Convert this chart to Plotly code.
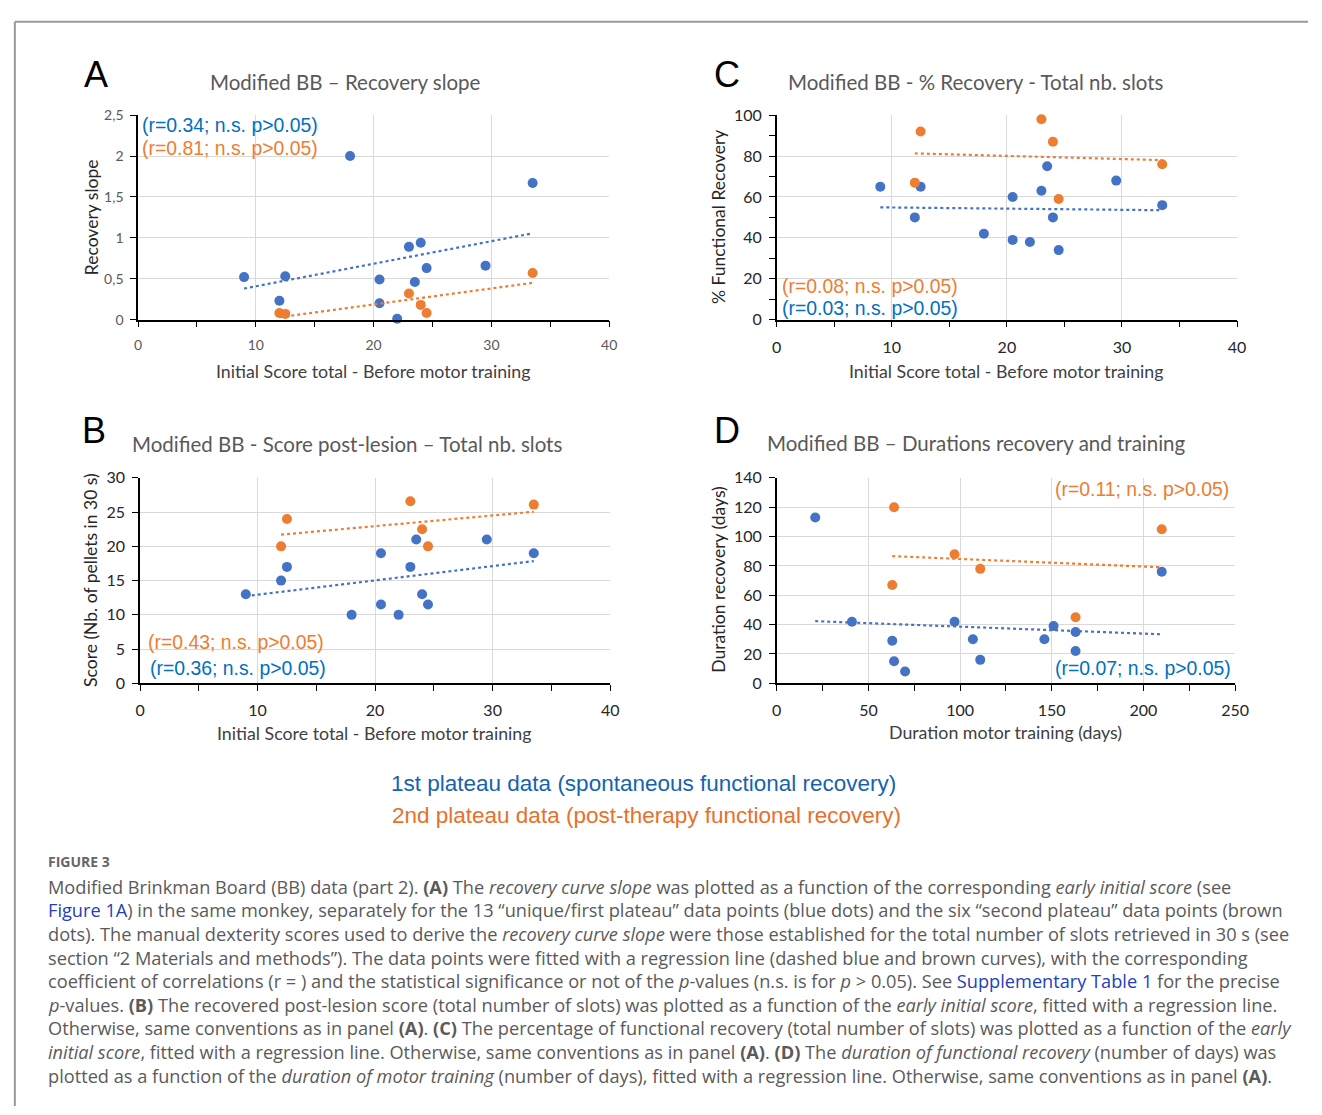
import numpy as np
import plotly.graph_objects as go

W, H = 1322, 1115

# ---------------- data ----------------
# Panel A: recovery slope vs initial score
a_blue_x = [9, 12, 12.5, 18, 20.5, 20.5, 22, 23, 23.5, 24, 24.5, 29.5, 33.5]
a_blue_y = [0.52, 0.23, 0.53, 2.0, 0.49, 0.20, 0.01, 0.89, 0.46, 0.94, 0.63, 0.66, 1.67]
a_orange_x = [12, 12.5, 23, 24, 24.5, 33.5]
a_orange_y = [0.08, 0.07, 0.32, 0.18, 0.08, 0.57]

# Panel B: score post-lesion vs initial score
b_blue_x = [9, 12, 12.5, 18, 20.5, 20.5, 22, 23, 23.5, 24, 24.5, 29.5, 33.5]
b_blue_y = [13, 15, 17, 10, 19, 11.5, 10, 17, 21, 13, 11.5, 21, 19]
b_orange_x = [12, 12.5, 23, 24, 24.5, 33.5]
b_orange_y = [20, 24, 26.6, 22.5, 20, 26.1]

# Panel C: % functional recovery vs initial score
c_blue_x = [9, 12, 12.5, 18, 20.5, 20.5, 22, 23, 23.5, 24, 24.5, 29.5, 33.5]
c_blue_y = [65, 50, 65, 42, 60, 39, 38, 63, 75, 50, 34, 68, 56]
c_orange_x = [12, 12.5, 23, 24, 24.5, 33.5]
c_orange_y = [67, 92, 98, 87, 59, 76]

# Panel D: duration recovery vs duration motor training
d_blue_x = [21, 41, 63, 64, 70, 97, 107, 111, 146, 151, 163, 163, 210]
d_blue_y = [113, 42, 29, 15, 8, 42, 30, 16, 30, 39, 35, 22, 76]
d_orange_x = [63, 64, 97, 111, 163, 210]
d_orange_y = [67, 120, 88, 78, 45, 105]

BLUE_M = "#4472C4"
ORANGE_M = "#ED7D31"
BLUE_T = "#0070C0"
ORANGE_T = "#ED7D31"


def px(x):
    return x / W


def py(y):
    return 1 - y / H


panels = [
    dict(key="1", bx=a_blue_x, by=a_blue_y, ox=a_orange_x, oy=a_orange_y,
         xd=(135, 613), yd=(107, 315), xr=[0, 40], yr=[0, 2.5], xdt=10, xmn=5, ydt=0.5, ymn=None,
         tfs=14, tcol="#595959"),
    dict(key="2", bx=c_blue_x, by=c_blue_y, ox=c_orange_x, oy=c_orange_y,
         xd=(783, 1250), yd=(107, 315), xr=[0, 40], yr=[0, 100], xdt=10, xmn=5, ydt=20, ymn=10,
         tfs=16, tcol="#262626"),
    dict(key="3", bx=b_blue_x, by=b_blue_y, ox=b_orange_x, oy=b_orange_y,
         xd=(137, 614), yd=(476, 685), xr=[0, 40], yr=[0, 30], xdt=10, xmn=5, ydt=5, ymn=None,
         tfs=16, tcol="#262626"),
    dict(key="4", bx=d_blue_x, by=d_blue_y, ox=d_orange_x, oy=d_orange_y,
         xd=(783, 1248), yd=(476, 685), xr=[0, 250], yr=[0, 140], xdt=50, xmn=25, ydt=20, ymn=None,
         tfs=16, tcol="#262626"),
]

fig = go.Figure()
layout = dict()

for p in panels:
    k = p["key"]
    xa = "x" if k == "1" else "x" + k
    ya = "y" if k == "1" else "y" + k
    for xs, ys, col in [(p["bx"], p["by"], BLUE_M), (p["ox"], p["oy"], ORANGE_M)]:
        xs_a = np.array(xs, float)
        ys_a = np.array(ys, float)
        m, b = np.polyfit(xs_a, ys_a, 1)
        xl = np.array([xs_a.min(), xs_a.max()])
        fig.add_trace(go.Scatter(x=xl, y=m * xl + b, mode="lines", xaxis=xa, yaxis=ya,
                                 line=dict(color=col, width=2.2, dash="dot"),
                                 showlegend=False, hoverinfo="skip"))
        fig.add_trace(go.Scatter(x=xs, y=ys, mode="markers", xaxis=xa, yaxis=ya,
                                 marker=dict(color=col, size=10), showlegend=False, cliponaxis=False))
    axname_x = "xaxis" if k == "1" else "xaxis" + k
    axname_y = "yaxis" if k == "1" else "yaxis" + k
    minor_x = dict(ticks="outside", dtick=p["xmn"], ticklen=6, tickcolor="#000", showgrid=False)
    layout[axname_x] = dict(domain=[px(p["xd"][0]), px(p["xd"][1])], anchor=ya, range=p["xr"],
                            dtick=p["xdt"], tick0=0, showgrid=True, gridcolor="#D9D9D9", gridwidth=1,
                            showline=True, linecolor="#000", linewidth=1.5, zeroline=False,
                            ticks="outside", ticklen=6, tickcolor="#000",
                            tickfont=dict(family="Lato", size=p["tfs"], color=p["tcol"]),
                            ticklabelstandoff=6, minor=minor_x, fixedrange=True)
    ydict = dict(domain=[py(p["yd"][1]), py(p["yd"][0])], anchor=xa, range=p["yr"],
                 dtick=p["ydt"], tick0=0, showgrid=True, gridcolor="#D9D9D9", gridwidth=1,
                 showline=True, linecolor="#000", linewidth=1.5, zeroline=False,
                 ticks="outside", ticklen=6, tickcolor="#000",
                 tickfont=dict(family="Lato", size=p["tfs"], color=p["tcol"]),
                 ticklabelstandoff=4, fixedrange=True)
    if p["ymn"]:
        ydict["minor"] = dict(ticks="outside", dtick=p["ymn"], ticklen=6, tickcolor="#000", showgrid=False)
    layout[axname_y] = ydict

annotations = []


def ann(text, x, y, size, color, family="Lato", xanchor="center", yanchor="middle", textangle=0):
    annotations.append(dict(text=text, x=px(x), y=py(y), xref="paper", yref="paper",
                            showarrow=False, xanchor=xanchor, yanchor=yanchor, textangle=textangle,
                            font=dict(family=family, size=size, color=color)))


# panel letters
for letter, x, y in [("A", 92, 66), ("C", 733, 66), ("B", 90, 428), ("D", 733, 428)]:
    ann(letter, x, y, 36, "#000", family="Liberation Sans")

# titles
ann("Modified BB – Recovery slope", 345, 73, 20.5, "#595959")
ann("Modified BB - % Recovery - Total nb. slots", 985, 73, 20.5, "#595959")
ann("Modified BB - Score post-lesion – Total nb. slots", 347, 442, 20.5, "#595959")
ann("Modified BB – Durations recovery and training", 986, 441, 20.5, "#595959")

# axis titles
xt = "Initial Score total - Before motor training"
ann(xt, 374, 367, 17.8, "#404040")
ann(xt, 1016, 367, 17.8, "#404040")
ann(xt, 375, 736, 17.8, "#404040")
ann("Duration motor training (days)", 1015, 735, 17.8, "#404040")
ann("Recovery slope", 88, 211, 17.5, "#262626", textangle=-90)
ann("% Functional Recovery", 724, 211, 17.5, "#262626", textangle=-90)
ann("Score (Nb. of pellets in 30 s)", 86, 580, 17.5, "#262626", textangle=-90)
ann("Duration recovery (days)", 724, 580, 17.5, "#262626", textangle=-90)

# r annotations
RF = "Liberation Sans"
ann("(r=0.34; n.s. p>0.05)", 137, 117, 19.4, BLUE_T, family=RF, xanchor="left")
ann("(r=0.81; n.s. p>0.05)", 137, 140, 19.4, ORANGE_T, family=RF, xanchor="left")
ann("(r=0.08; n.s. p>0.05)", 786, 281, 19.4, ORANGE_T, family=RF, xanchor="left")
ann("(r=0.03; n.s. p>0.05)", 786, 303, 19.4, BLUE_T, family=RF, xanchor="left")
ann("(r=0.43; n.s. p>0.05)", 143, 643, 19.4, ORANGE_T, family=RF, xanchor="left")
ann("(r=0.36; n.s. p>0.05)", 145, 669, 19.4, BLUE_T, family=RF, xanchor="left")
ann("(r=0.11; n.s. p>0.05)", 1244, 487, 19.4, ORANGE_T, family=RF, xanchor="right")
ann("(r=0.07; n.s. p>0.05)", 1246, 669, 19.4, BLUE_T, family=RF, xanchor="right")

# legend text
ann("1st plateau data (spontaneous functional recovery)", 648, 787, 22.5, "#1563B0", family=RF)
ann("2nd plateau data (post-therapy functional recovery)", 651, 819, 22.5, "#E8702A", family=RF)

# caption
CAP = "#5A5A5A"
LINK = "#2340B8"
CF = "Open Sans"
ann("<b>FIGURE 3</b>", 42, 866, 14, "#666666", family=CF, xanchor="left")
cap_lines = [
    "Modified Brinkman Board (BB) data (part 2). <b>(A)</b> The <i>recovery curve slope</i> was plotted as a function of the corresponding <i>early initial score</i> (see",
    f"<span style='color:{LINK}'>Figure 1A</span>) in the same monkey, separately for the 13 “unique/first plateau” data points (blue dots) and the six “second plateau” data points (brown",
    "dots). The manual dexterity scores used to derive the <i>recovery curve slope</i> were those established for the total number of slots retrieved in 30 s (see",
    "section “2 Materials and methods”). The data points were fitted with a regression line (dashed blue and brown curves), with the corresponding",
    f"coefficient of correlations (r = ) and the statistical significance or not of the <i>p</i>-values (n.s. is for <i>p</i> &gt; 0.05). See <span style='color:{LINK}'>Supplementary Table 1</span> for the precise",
    "<i>p</i>-values. <b>(B)</b> The recovered post-lesion score (total number of slots) was plotted as a function of the <i>early initial score</i>, fitted with a regression line.",
    "Otherwise, same conventions as in panel <b>(A)</b>. <b>(C)</b> The percentage of functional recovery (total number of slots) was plotted as a function of the <i>early</i>",
    "<i>initial score</i>, fitted with a regression line. Otherwise, same conventions as in panel <b>(A)</b>. <b>(D)</b> The <i>duration of functional recovery</i> (number of days) was",
    "plotted as a function of the <i>duration of motor training</i> (number of days), fitted with a regression line. Otherwise, same conventions as in panel <b>(A)</b>.",
]
for i, line in enumerate(cap_lines):
    ann(line, 42, 892 + 24 * i, 18.2, CAP, family=CF, xanchor="left")

shapes = [
    dict(type="line", xref="paper", yref="paper", x0=px(10), x1=1.0, y0=py(12), y1=py(12),
         line=dict(color="#999999", width=2)),
    dict(type="line", xref="paper", yref="paper", x0=px(10), x1=px(10), y0=py(12), y1=0.0,
         line=dict(color="#999999", width=2)),
]

fig.update_layout(
    autosize=True, margin=dict(l=0, r=0, t=0, b=0, pad=0),
    paper_bgcolor="white", plot_bgcolor="white",
    separators=", ",
    annotations=annotations, shapes=shapes, showlegend=False,
    **layout,
)

fig.write_html("out.html", config={"displayModeBar": False, "responsive": True},
               default_width="100vw", default_height="100vh",
               post_script="document.documentElement.style.overflow='hidden';"
                           "document.body.style.margin='0';document.body.style.padding='0';"
                           "document.body.style.overflow='hidden';"
                           "window.dispatchEvent(new Event('resize'));")
